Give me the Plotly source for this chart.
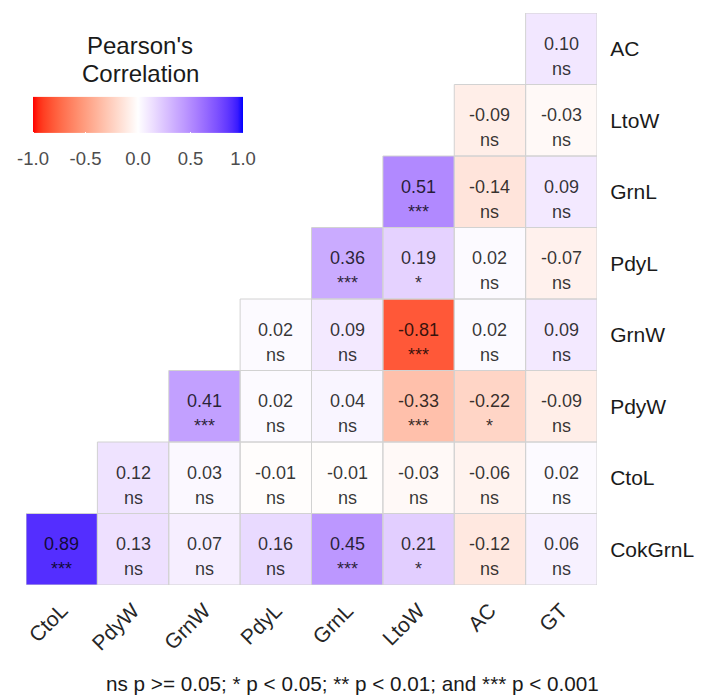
import plotly.graph_objects as go

# ---------------- data ----------------
x_labels = ["CtoL", "PdyW", "GrnW", "PdyL", "GrnL", "LtoW", "AC", "GT"]
y_labels = ["AC", "LtoW", "GrnL", "PdyL", "GrnW", "PdyW", "CtoL", "CokGrnL"]

r_AC      = [None, None, None, None, None, None, None, 0.10]
r_LtoW    = [None, None, None, None, None, None, -0.09, -0.03]
r_GrnL    = [None, None, None, None, None, 0.51, -0.14, 0.09]
r_PdyL    = [None, None, None, None, 0.36, 0.19, 0.02, -0.07]
r_GrnW    = [None, None, None, 0.02, 0.09, -0.81, 0.02, 0.09]
r_PdyW    = [None, None, 0.41, 0.02, 0.04, -0.33, -0.22, -0.09]
r_CtoL    = [None, 0.12, 0.03, -0.01, -0.01, -0.03, -0.06, 0.02]
r_CokGrnL = [0.89, 0.13, 0.07, 0.16, 0.45, 0.21, -0.12, 0.06]

s_AC      = [None, None, None, None, None, None, None, "ns"]
s_LtoW    = [None, None, None, None, None, None, "ns", "ns"]
s_GrnL    = [None, None, None, None, None, "***", "ns", "ns"]
s_PdyL    = [None, None, None, None, "***", "*", "ns", "ns"]
s_GrnW    = [None, None, None, "ns", "ns", "***", "ns", "ns"]
s_PdyW    = [None, None, "***", "ns", "ns", "***", "*", "ns"]
s_CtoL    = [None, "ns", "ns", "ns", "ns", "ns", "ns", "ns"]
s_CokGrnL = ["***", "ns", "ns", "ns", "***", "*", "ns", "ns"]

colorbar_ticks = [-1.0, -0.5, 0.0, 0.5, 1.0]
colorbar_ticktext = ["-1.0", "-0.5", "0.0", "0.5", "1.0"]
legend_title_lines = ["Pearson's", "Correlation"]
caption = "ns p >= 0.05; * p < 0.05; ** p < 0.01; and *** p < 0.001"

r_rows = [r_AC, r_LtoW, r_GrnL, r_PdyL, r_GrnW, r_PdyW, r_CtoL, r_CokGrnL]
s_rows = [s_AC, s_LtoW, s_GrnL, s_PdyL, s_GrnW, s_PdyW, s_CtoL, s_CokGrnL]

# ---------------- colour scale (Lab interpolation, like ggplot gradient2) ----------------
def _srgb_to_lin(c):
    c = c / 255.0
    return c / 12.92 if c <= 0.04045 else ((c + 0.055) / 1.055) ** 2.4

def _lin_to_srgb(c):
    c = max(0.0, min(1.0, c))
    v = 12.92 * c if c <= 0.0031308 else 1.055 * c ** (1 / 2.4) - 0.055
    return max(0, min(255, round(v * 255)))

Xn, Yn, Zn = 0.95047, 1.0, 1.08883

def _f(t):
    return t ** (1 / 3) if t > (6 / 29) ** 3 else t / (3 * (6 / 29) ** 2) + 4 / 29

def _finv(t):
    return t ** 3 if t > 6 / 29 else 3 * (6 / 29) ** 2 * (t - 4 / 29)

def rgb_to_lab(rgb):
    r, g, b = [_srgb_to_lin(v) for v in rgb]
    X = 0.4124 * r + 0.3576 * g + 0.1805 * b
    Y = 0.2126 * r + 0.7152 * g + 0.0722 * b
    Z = 0.0193 * r + 0.1192 * g + 0.9505 * b
    fx, fy, fz = _f(X / Xn), _f(Y / Yn), _f(Z / Zn)
    return (116 * fy - 16, 500 * (fx - fy), 200 * (fy - fz))

def lab_to_rgb(lab):
    L, a, b = lab
    fy = (L + 16) / 116
    fx = fy + a / 500
    fz = fy - b / 200
    X, Y, Z = Xn * _finv(fx), Yn * _finv(fy), Zn * _finv(fz)
    r = 3.2406 * X - 1.5372 * Y - 0.4986 * Z
    g = -0.9689 * X + 1.8758 * Y + 0.0415 * Z
    bb = 0.0557 * X - 0.2040 * Y + 1.0570 * Z
    return tuple(_lin_to_srgb(v) for v in (r, g, bb))

lab_low, lab_mid, lab_high = rgb_to_lab((255, 0, 0)), rgb_to_lab((255, 255, 255)), rgb_to_lab((0, 0, 255))
colorscale = []
n = 40
for i in range(n + 1):
    t = i / n
    if t <= 0.5:
        u = t / 0.5
        lab = tuple(lab_low[k] + (lab_mid[k] - lab_low[k]) * u for k in range(3))
    else:
        u = (t - 0.5) / 0.5
        lab = tuple(lab_mid[k] + (lab_high[k] - lab_mid[k]) * u for k in range(3))
    rgb = lab_to_rgb(lab)
    colorscale.append([t, "rgb(%d,%d,%d)" % rgb])

# ---------------- figure ----------------
W, H = 705, 695
ML, MR, MT, MB = 26, 108, 13, 110
PW, PH = W - ML - MR, H - MT - MB

def px_x(px):
    return (px - ML) / PW

def px_y(py):
    return 1 - (py - MT) / PH

FONT = "Liberation Sans, Arial"

fig = go.Figure()

fig.add_trace(go.Heatmap(
    z=r_rows, x=x_labels, y=y_labels,
    zmin=-1, zmax=1, colorscale=colorscale,
    hoverongaps=False,
    colorbar=dict(
        orientation="h",
        xref="paper", yref="paper",
        x=px_x(138), xanchor="center",
        y=px_y(132.5), yanchor="middle",
        len=210, lenmode="pixels",
        thickness=36, thicknessmode="pixels",
        outlinewidth=0,
        tickvals=colorbar_ticks, ticktext=colorbar_ticktext,
        ticks="outside", ticklen=10, tickcolor="white",
        tickfont=dict(family=FONT, size=18.5, color="#4d4d4d"),
        xpad=0, ypad=0,
    ),
))

# cell borders
for ri, row in enumerate(r_rows):
    for ci, v in enumerate(row):
        if v is None:
            continue
        fig.add_shape(type="rect", xref="x", yref="y",
                      x0=ci - 0.5, x1=ci + 0.5, y0=ri - 0.5, y1=ri + 0.5,
                      line=dict(color="#d2d2d2", width=1), fillcolor="rgba(0,0,0,0)", layer="above")

# cell labels
cell_font = dict(family=FONT, size=18, color="rgba(0,0,0,0.8)")
for ri, row in enumerate(r_rows):
    for ci, v in enumerate(row):
        if v is None:
            continue
        fig.add_annotation(x=x_labels[ci], y=y_labels[ri], text="%.2f" % v,
                           showarrow=False, yshift=5, font=cell_font)
        fig.add_annotation(x=x_labels[ci], y=y_labels[ri], text=s_rows[ri][ci],
                           showarrow=False, yshift=-20, font=cell_font)

for line_text, line_y in zip(legend_title_lines, [45, 73]):
    fig.add_annotation(
        text=line_text, xref="paper", yref="paper",
        x=px_x(140), y=px_y(line_y), xanchor="center", yanchor="middle",
        showarrow=False,
        font=dict(family=FONT, size=24, color="#1a1a1a"),
    )

fig.add_annotation(
    text=caption, xref="paper", yref="paper",
    x=px_x(352), y=px_y(683), xanchor="center", yanchor="middle",
    showarrow=False,
    font=dict(family=FONT, size=20.7, color="#1a1a1a"),
)

fig.update_layout(
    width=W, height=H,
    margin=dict(l=ML, r=MR, t=MT, b=MB, autoexpand=False),
    paper_bgcolor="white", plot_bgcolor="white",
    showlegend=False,
    font=dict(family=FONT),
    xaxis=dict(
        type="category", categoryorder="array", categoryarray=x_labels,
        showgrid=False, zeroline=False, showline=False,
        tickangle=-45, ticks="outside", ticklen=4, tickcolor="white",
        tickfont=dict(size=21, color="#262626"),
        range=[-0.5, 7.5],
    ),
    yaxis=dict(
        type="category", categoryorder="array", categoryarray=y_labels,
        autorange=False, range=[7.5, -0.5],
        side="right", showgrid=False, zeroline=False, showline=False,
        ticks="outside", ticklen=8, tickcolor="white",
        tickfont=dict(size=21, color="#1a1a1a"),
    ),
)

fig.write_html("out.html", config={"displayModeBar": False},
               post_script="document.body.style.margin='0px';")
